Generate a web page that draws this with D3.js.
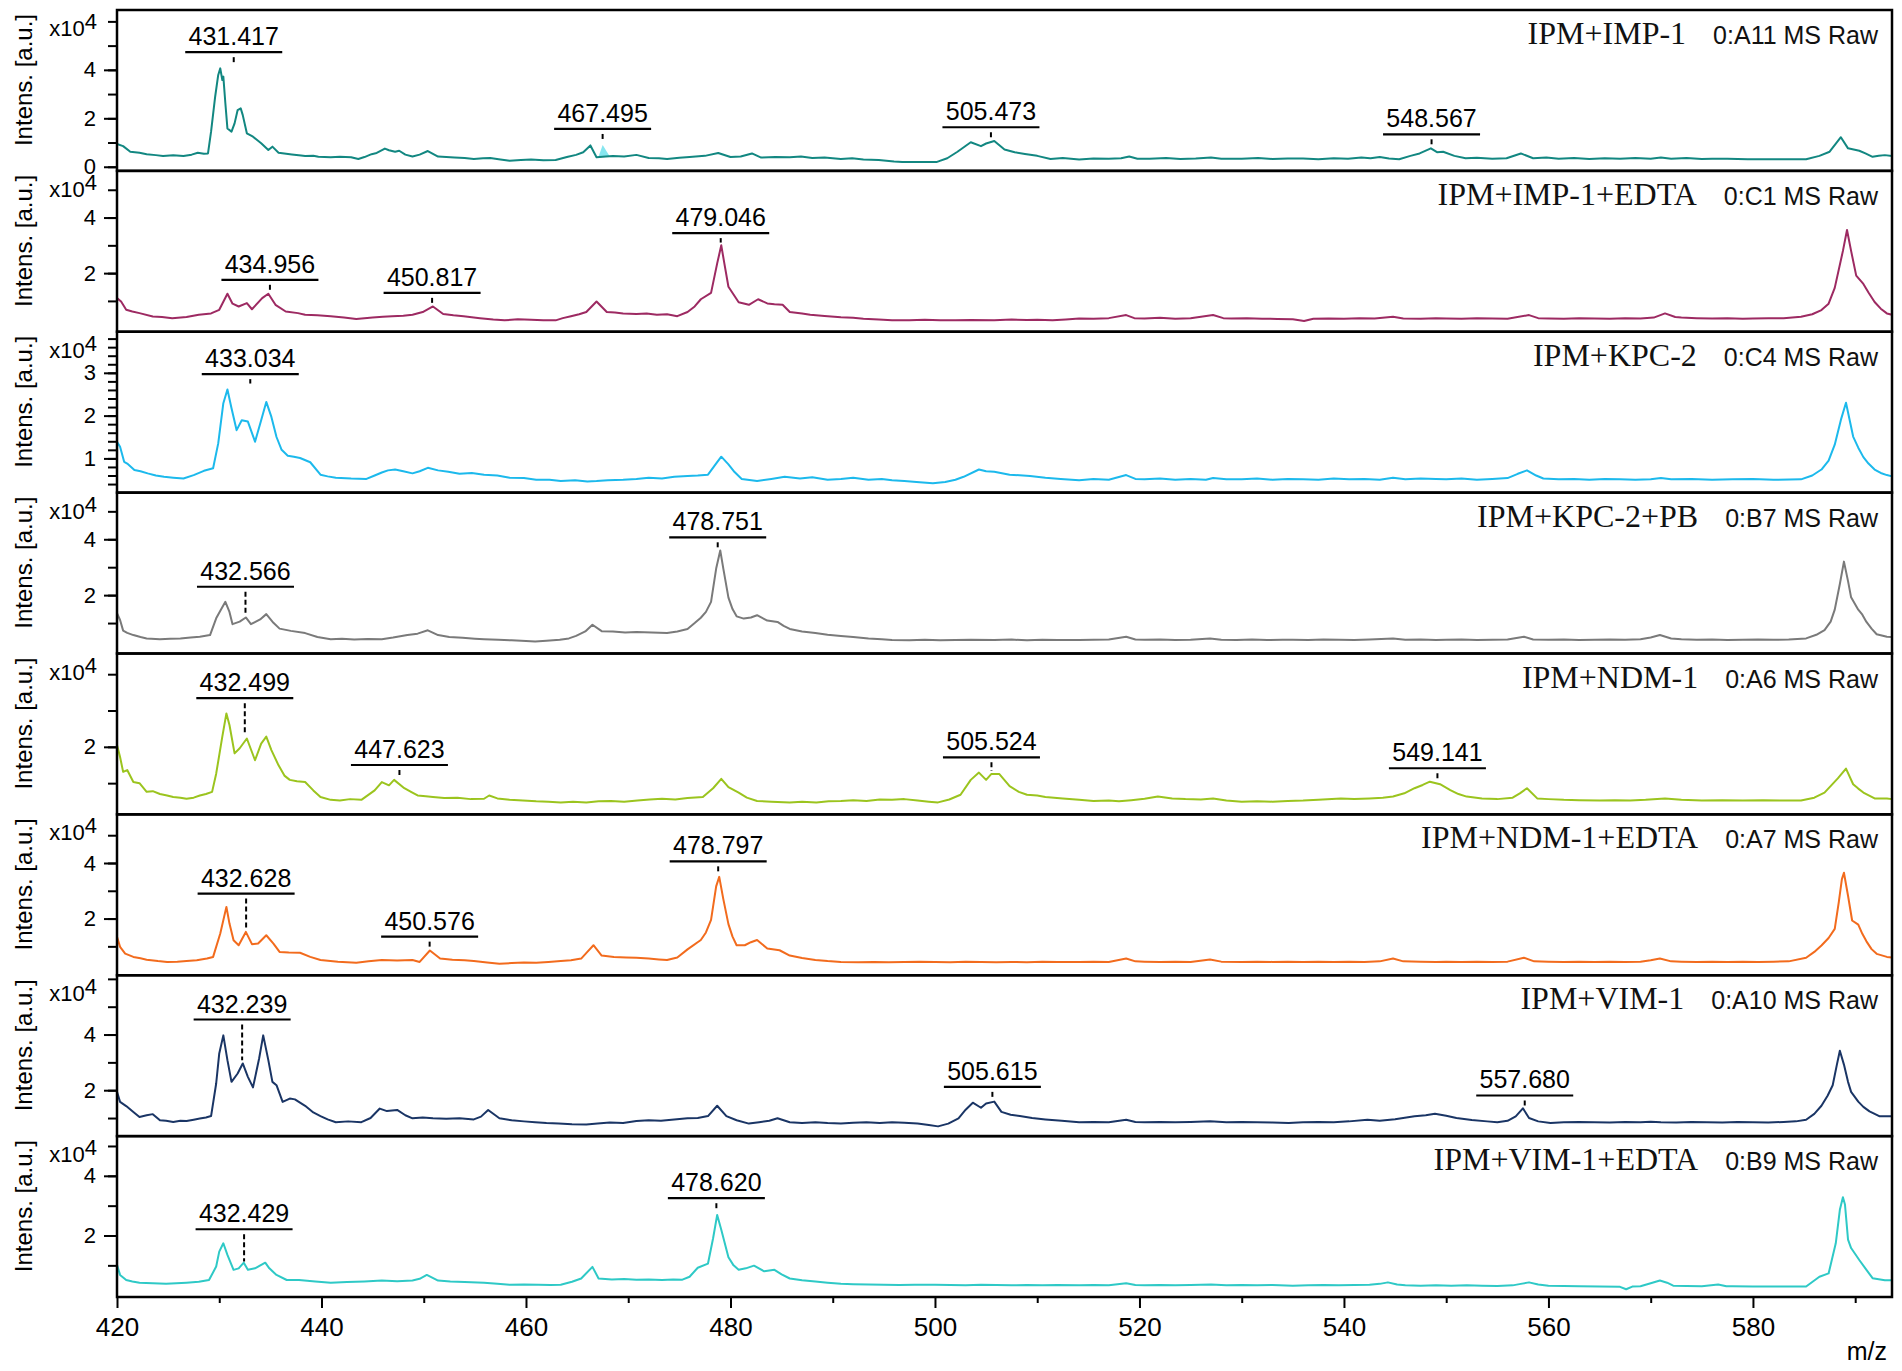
<!DOCTYPE html>
<html>
<head>
<meta charset="utf-8">
<script src="https://cdn.jsdelivr.net/npm/d3@7"></script>
<style>
  body { margin: 0; background: #fff; }
</style>
</head>
<body>
<svg id="chart" width="1902" height="1371"></svg>
<script>
// sample names, spot ids and trace colours, one per panel (top to bottom)
const titles = ['IPM+IMP-1', 'IPM+IMP-1+EDTA', 'IPM+KPC-2', 'IPM+KPC-2+PB',
  'IPM+NDM-1', 'IPM+NDM-1+EDTA', 'IPM+VIM-1', 'IPM+VIM-1+EDTA'];
const spots = ['0:A11 MS Raw', '0:C1 MS Raw', '0:C4 MS Raw', '0:B7 MS Raw',
  '0:A6 MS Raw', '0:A7 MS Raw', '0:A10 MS Raw', '0:B9 MS Raw'];
const colors = ['#128781', '#9d2a62', '#1cb9ec', '#7a7a7a', '#9bc41e', '#f26b1d', '#1a3565', '#2ec9c6'];

// intensity ranges (x10^4) and ticks of each panel
const yDomains = [[-0.17, 6.47], [-0.11, 5.68], [0.2, 3.96], [-0.09, 5.67],
  [0.14, 4.57], [-0.04, 5.75], [0.35, 6.13], [-0.06, 5.33]];
const yTicks = [
  [0, 1, 2, 3, 4, 5, 6],
  [1, 2, 3, 4, 5],
  [0.4, 0.6, 0.8, 1, 1.2, 1.4, 1.6, 1.8, 2, 2.2, 2.4, 2.6, 2.8, 3, 3.2, 3.4, 3.6, 3.8],
  [1, 2, 3, 4, 5],
  [1, 2, 3, 4],
  [1, 2, 3, 4, 5],
  [1, 2, 3, 4, 5, 6],
  [1, 2, 3, 4, 5]
];
const yLabelTicks = [[0, 2, 4], [2, 4], [1, 2, 3], [2, 4], [2], [2, 4], [2, 4], [2, 4]];

const mzDomain = [420, 593.6];
const xMajor = [420, 440, 460, 480, 500, 520, 540, 560, 580];
const xMinor = [430, 450, 470, 490, 510, 530, 550, 570, 590];

// spectra: [m/z, intensity x10^4]
const specIMP1 = [[420.0,0.94],[420.6,0.85],[421.3,0.62],[422.2,0.58],[422.9,0.52],[423.8,0.48],[424.5,0.44],[425.5,0.47],[426.5,0.44],[427.3,0.5],[427.9,0.58],[428.5,0.54],[428.9,0.55],[429.2,1.45],[429.6,2.89],[429.9,3.79],[430.1,4.06],[430.3,3.58],[430.4,3.72],[430.6,2.61],[430.8,1.58],[431.2,1.45],[431.5,1.79],[431.8,2.34],[432.1,2.41],[432.3,2.13],[432.7,1.38],[433.3,1.24],[434.1,0.97],[434.8,0.69],[435.2,0.83],[435.8,0.58],[437.1,0.51],[438.0,0.46],[438.4,0.44],[439.2,0.45],[439.7,0.41],[440.9,0.39],[441.8,0.41],[442.9,0.39],[443.6,0.32],[444.2,0.4],[444.9,0.52],[445.4,0.57],[446.2,0.75],[446.6,0.68],[447.2,0.62],[447.6,0.66],[448.2,0.5],[448.9,0.42],[449.6,0.5],[450.4,0.65],[451.4,0.42],[452.2,0.4],[453.0,0.38],[454.0,0.36],[454.9,0.32],[455.8,0.35],[456.5,0.36],[457.5,0.3],[458.4,0.25],[459.5,0.28],[460.5,0.3],[461.7,0.27],[462.9,0.28],[464.0,0.4],[464.9,0.49],[465.6,0.6],[466.3,0.88],[466.9,0.39],[467.8,0.42],[468.5,0.44],[469.6,0.42],[470.8,0.49],[472.0,0.36],[473.0,0.35],[473.8,0.32],[475.0,0.37],[476.0,0.4],[477.5,0.45],[478.8,0.57],[480.0,0.4],[481.0,0.42],[482.1,0.55],[483.0,0.38],[484.4,0.4],[485.8,0.39],[486.9,0.42],[488.0,0.36],[489.2,0.38],[490.8,0.32],[491.9,0.35],[493.0,0.3],[494.5,0.28],[496.0,0.22],[496.8,0.2],[498.5,0.2],[500.2,0.2],[501.2,0.35],[502.2,0.62],[503.5,1.01],[504.5,0.85],[505.0,0.96],[505.8,1.06],[506.8,0.71],[507.8,0.6],[508.8,0.53],[510.0,0.45],[511.3,0.32],[512.5,0.36],[514.1,0.3],[515.5,0.34],[517.0,0.33],[518.2,0.35],[519.0,0.42],[519.8,0.33],[521.0,0.33],[522.6,0.36],[524.0,0.32],[525.5,0.34],[527.0,0.38],[528.0,0.33],[530.0,0.33],[531.6,0.36],[533.0,0.32],[534.5,0.34],[536.0,0.34],[537.5,0.31],[539.0,0.35],[540.4,0.33],[541.7,0.38],[542.6,0.35],[543.5,0.4],[544.4,0.34],[545.4,0.31],[546.5,0.45],[547.4,0.55],[548.5,0.76],[549.1,0.6],[549.7,0.62],[550.8,0.45],[551.9,0.35],[553.0,0.37],[554.5,0.33],[555.9,0.35],[557.3,0.55],[558.5,0.35],[559.8,0.38],[561.0,0.33],[562.5,0.36],[564.0,0.32],[565.5,0.35],[567.0,0.33],[568.5,0.36],[570.0,0.33],[571.0,0.38],[572.0,0.33],[573.5,0.36],[575.0,0.32],[576.0,0.33],[577.5,0.33],[579.5,0.31],[581.5,0.31],[583.5,0.31],[585.2,0.31],[586.5,0.45],[587.5,0.62],[588.6,1.22],[589.3,0.76],[590.4,0.66],[591.0,0.55],[591.7,0.41],[592.3,0.45],[592.9,0.48],[593.6,0.44]];
const specIMP1EDTA = [[420.0,1.1],[420.4,0.98],[420.9,0.68],[421.5,0.62],[422.2,0.56],[423.5,0.44],[424.4,0.42],[425.4,0.38],[426.8,0.42],[428.0,0.5],[429.2,0.55],[430.0,0.68],[430.8,1.26],[431.3,0.9],[431.9,0.8],[432.7,0.92],[433.2,0.7],[434.2,1.1],[434.8,1.26],[435.5,0.86],[436.5,0.62],[437.7,0.56],[438.4,0.5],[439.6,0.48],[440.9,0.45],[442.2,0.4],[443.4,0.35],[444.2,0.38],[445.0,0.4],[446.0,0.43],[446.9,0.45],[448.0,0.47],[448.9,0.5],[449.9,0.6],[450.9,0.8],[451.9,0.53],[452.9,0.48],[453.9,0.45],[455.5,0.38],[456.8,0.33],[457.9,0.3],[459.2,0.34],[460.5,0.32],[461.7,0.3],[462.9,0.3],[463.6,0.38],[464.4,0.45],[465.2,0.52],[465.9,0.6],[466.9,0.98],[467.9,0.6],[468.7,0.58],[469.5,0.55],[470.8,0.53],[471.8,0.55],[472.8,0.5],[473.8,0.52],[474.8,0.45],[475.8,0.6],[476.5,0.8],[477.1,1.06],[478.1,1.29],[478.7,2.35],[479.1,3.0],[479.4,2.35],[479.8,1.51],[480.8,0.95],[481.8,0.86],[482.7,1.06],[483.6,0.91],[484.3,0.88],[485.1,0.86],[485.8,0.6],[487.0,0.55],[487.8,0.5],[489.2,0.46],[490.8,0.41],[492.0,0.39],[493.0,0.36],[494.5,0.33],[495.8,0.3],[497.5,0.3],[499.0,0.32],[500.5,0.3],[502.0,0.3],[503.5,0.31],[505.8,0.3],[507.5,0.33],[509.0,0.31],[510.0,0.32],[511.5,0.3],[512.8,0.33],[514.1,0.37],[515.5,0.36],[517.0,0.38],[518.7,0.49],[519.5,0.38],[520.5,0.37],[522.0,0.39],[523.5,0.36],[525.0,0.38],[527.2,0.49],[528.2,0.38],[529.0,0.37],[530.5,0.38],[532.0,0.36],[533.5,0.35],[535.0,0.34],[536.1,0.28],[537.0,0.36],[538.5,0.37],[540.0,0.36],[541.5,0.38],[543.0,0.37],[544.8,0.43],[545.8,0.37],[547.5,0.36],[549.0,0.38],[550.0,0.37],[551.5,0.36],[553.0,0.38],[554.5,0.37],[556.0,0.36],[558.1,0.49],[559.0,0.38],[560.0,0.37],[561.5,0.36],[563.0,0.38],[564.5,0.37],[566.0,0.36],[567.5,0.38],[569.0,0.37],[570.3,0.4],[571.4,0.55],[572.4,0.42],[573.0,0.4],[574.5,0.38],[576.0,0.37],[577.5,0.38],[579.0,0.36],[580.0,0.37],[581.5,0.38],[583.0,0.38],[584.7,0.43],[585.8,0.52],[586.7,0.67],[587.4,0.9],[588.0,1.47],[588.8,2.8],[589.2,3.55],[589.6,2.8],[590.1,1.91],[590.8,1.61],[591.3,1.3],[591.9,0.96],[592.5,0.72],[593.1,0.55],[593.6,0.5]];
const specKPC2 = [[420.0,1.39],[420.3,1.27],[420.7,0.92],[421.0,0.88],[421.7,0.73],[422.3,0.7],[423.0,0.65],[423.8,0.6],[424.6,0.57],[425.5,0.55],[426.5,0.53],[427.5,0.61],[428.5,0.71],[429.4,0.77],[429.9,1.35],[430.4,2.29],[430.8,2.61],[431.2,2.17],[431.7,1.66],[432.2,1.89],[432.8,1.86],[433.5,1.39],[434.1,1.89],[434.6,2.32],[435.1,1.97],[435.6,1.5],[436.1,1.2],[436.7,1.06],[437.3,1.04],[437.9,1.01],[438.9,0.91],[439.9,0.62],[440.6,0.58],[441.4,0.55],[442.9,0.53],[444.4,0.52],[445.2,0.6],[445.9,0.67],[446.5,0.72],[447.2,0.74],[448.0,0.7],[448.9,0.65],[449.6,0.7],[450.4,0.78],[451.4,0.72],[452.4,0.69],[453.5,0.64],[454.7,0.66],[455.9,0.62],[457.2,0.6],[458.4,0.55],[459.8,0.54],[461.0,0.5],[462.3,0.5],[463.4,0.47],[464.8,0.49],[466.0,0.46],[466.9,0.47],[468.0,0.49],[469.5,0.5],[470.8,0.52],[472.0,0.55],[473.3,0.53],[474.5,0.57],[475.8,0.59],[476.8,0.6],[477.8,0.62],[478.5,0.85],[479.1,1.04],[479.8,0.86],[480.4,0.68],[481.1,0.52],[482.6,0.47],[484.0,0.52],[485.3,0.57],[486.8,0.53],[488.0,0.56],[489.5,0.5],[490.8,0.52],[492.0,0.55],[493.5,0.5],[494.8,0.52],[495.8,0.49],[497.0,0.47],[498.5,0.44],[499.8,0.42],[501.0,0.45],[502.0,0.5],[502.8,0.57],[504.3,0.74],[505.0,0.7],[505.8,0.69],[507.3,0.62],[509.3,0.59],[510.8,0.55],[512.3,0.52],[514.1,0.49],[515.5,0.52],[517.0,0.5],[518.7,0.61],[519.6,0.52],[520.5,0.51],[522.0,0.53],[523.5,0.5],[525.0,0.52],[526.5,0.5],[527.2,0.54],[528.5,0.51],[530.0,0.51],[531.5,0.53],[533.0,0.5],[534.5,0.52],[536.0,0.51],[537.5,0.5],[539.0,0.53],[540.5,0.51],[542.0,0.52],[543.5,0.5],[544.8,0.55],[546.0,0.51],[547.5,0.53],[549.0,0.52],[550.0,0.51],[551.5,0.53],[553.0,0.5],[554.5,0.52],[556.0,0.54],[557.0,0.64],[557.9,0.72],[558.8,0.6],[559.5,0.53],[561.0,0.51],[562.5,0.52],[564.0,0.5],[565.5,0.52],[567.0,0.51],[568.5,0.5],[570.0,0.51],[571.0,0.54],[572.0,0.51],[574.0,0.52],[576.0,0.5],[578.0,0.51],[580.0,0.52],[582.0,0.5],[584.7,0.51],[585.8,0.6],[586.7,0.74],[587.4,0.95],[588.0,1.32],[588.6,1.9],[589.1,2.3],[589.5,1.85],[589.8,1.51],[590.3,1.25],[590.8,1.03],[591.3,0.88],[591.9,0.74],[592.5,0.66],[593.1,0.61],[593.6,0.58]];
const specKPC2PB = [[420.0,1.35],[420.3,1.11],[420.6,0.73],[421.0,0.65],[421.6,0.57],[422.3,0.5],[422.9,0.45],[424.2,0.42],[425.2,0.44],[426.2,0.45],[427.2,0.48],[428.1,0.51],[429.1,0.57],[429.7,1.17],[430.2,1.5],[430.6,1.76],[431.0,1.4],[431.3,0.96],[432.0,1.05],[432.6,1.2],[433.1,0.96],[434.0,1.13],[434.6,1.32],[435.3,1.01],[435.9,0.8],[437.0,0.72],[438.4,0.64],[439.6,0.5],[440.9,0.42],[442.0,0.44],[443.2,0.41],[444.5,0.43],[445.9,0.42],[447.0,0.48],[448.4,0.57],[449.4,0.62],[450.4,0.74],[451.4,0.57],[452.5,0.5],[453.8,0.47],[455.0,0.44],[455.9,0.42],[457.3,0.4],[458.6,0.38],[460.0,0.36],[460.9,0.34],[462.0,0.37],[463.3,0.4],[464.2,0.45],[464.9,0.54],[465.8,0.7],[466.5,0.94],[467.4,0.71],[468.5,0.7],[469.7,0.66],[470.8,0.68],[472.3,0.66],[473.8,0.64],[474.8,0.7],[475.8,0.79],[476.5,1.0],[477.1,1.19],[477.6,1.4],[478.1,1.76],[478.6,2.95],[479.0,3.6],[479.3,2.95],[479.8,1.91],[480.2,1.5],[480.6,1.24],[481.3,1.16],[482.0,1.2],[482.6,1.28],[483.6,1.09],[484.6,1.04],[485.2,0.9],[485.8,0.79],[487.0,0.7],[488.3,0.64],[489.5,0.58],[490.8,0.54],[492.0,0.5],[493.5,0.45],[494.8,0.42],[495.8,0.39],[497.5,0.38],[499.0,0.4],[500.5,0.38],[502.0,0.39],[503.5,0.4],[505.8,0.39],[507.5,0.41],[509.0,0.38],[510.5,0.4],[512.0,0.39],[514.1,0.39],[515.5,0.4],[517.0,0.41],[518.7,0.51],[519.6,0.41],[520.5,0.4],[522.0,0.41],[523.5,0.39],[525.0,0.4],[526.9,0.45],[528.0,0.4],[529.5,0.39],[531.0,0.41],[532.5,0.39],[534.0,0.4],[535.0,0.4],[536.5,0.39],[538.0,0.41],[539.5,0.4],[541.0,0.39],[542.5,0.41],[544.8,0.45],[546.0,0.4],[547.5,0.41],[549.0,0.39],[550.0,0.4],[551.5,0.41],[553.0,0.39],[554.5,0.4],[556.0,0.41],[557.6,0.51],[558.5,0.41],[560.0,0.4],[561.5,0.41],[563.0,0.39],[564.5,0.4],[566.0,0.41],[567.5,0.4],[569.0,0.42],[570.0,0.48],[570.9,0.57],[572.0,0.45],[573.0,0.42],[574.5,0.4],[576.0,0.41],[577.5,0.39],[579.0,0.4],[580.5,0.41],[582.0,0.4],[583.5,0.41],[585.2,0.45],[586.2,0.58],[587.0,0.75],[587.6,1.05],[588.0,1.48],[588.5,2.4],[588.9,3.2],[589.3,2.5],[589.6,1.92],[590.3,1.48],[590.7,1.3],[591.1,1.04],[591.6,0.8],[592.1,0.6],[593.1,0.51],[593.6,0.5]];
const specNDM1 = [[420.0,2.05],[420.3,1.72],[420.6,1.31],[421.0,1.36],[421.6,1.03],[422.2,1.0],[422.9,0.76],[423.5,0.78],[424.2,0.7],[424.9,0.66],[425.5,0.62],[426.2,0.6],[426.8,0.57],[427.5,0.6],[428.1,0.66],[428.7,0.7],[429.3,0.76],[429.7,1.26],[430.3,2.28],[430.7,2.92],[431.0,2.6],[431.5,1.82],[432.0,1.96],[432.7,2.23],[433.5,1.63],[434.1,2.09],[434.6,2.28],[435.1,1.91],[435.8,1.49],[436.4,1.2],[436.9,1.09],[437.6,1.05],[438.4,1.03],[439.2,0.8],[439.9,0.62],[440.9,0.54],[441.8,0.52],[442.8,0.56],[443.9,0.54],[445.2,0.8],[445.9,1.03],[446.6,0.94],[447.1,1.09],[448.1,0.86],[448.8,0.75],[449.4,0.66],[450.2,0.64],[450.9,0.62],[452.0,0.59],[453.3,0.6],[454.6,0.56],[455.9,0.57],[456.4,0.66],[457.2,0.58],[458.4,0.54],[459.7,0.52],[461.0,0.5],[462.2,0.49],[463.4,0.47],[464.6,0.49],[465.9,0.47],[467.1,0.5],[468.3,0.51],[469.6,0.49],[470.9,0.52],[472.1,0.55],[473.3,0.57],[474.6,0.55],[475.8,0.59],[477.3,0.62],[478.3,0.86],[479.1,1.12],[479.8,0.89],[480.8,0.74],[481.6,0.6],[482.6,0.51],[484.0,0.49],[485.8,0.47],[487.0,0.49],[488.4,0.47],[489.6,0.5],[490.8,0.51],[492.0,0.53],[493.3,0.51],[494.6,0.55],[495.8,0.54],[497.0,0.56],[498.3,0.52],[499.4,0.49],[500.3,0.47],[501.4,0.55],[502.5,0.68],[503.5,1.09],[504.3,1.29],[505.0,1.09],[505.5,1.25],[506.3,1.25],[507.3,0.92],[508.2,0.76],[509.0,0.68],[510.0,0.66],[510.8,0.62],[512.5,0.58],[514.1,0.54],[515.5,0.51],[517.0,0.52],[518.0,0.5],[519.2,0.53],[520.5,0.57],[521.8,0.63],[523.2,0.58],[524.5,0.56],[526.0,0.55],[527.2,0.58],[528.5,0.52],[530.0,0.49],[531.5,0.5],[533.0,0.49],[534.5,0.51],[536.0,0.52],[537.5,0.54],[539.7,0.58],[541.0,0.56],[542.5,0.58],[543.8,0.6],[544.8,0.63],[545.9,0.72],[546.9,0.86],[547.7,0.95],[548.4,1.04],[549.4,0.97],[550.4,0.81],[551.2,0.7],[552.0,0.63],[553.5,0.58],[555.0,0.56],[556.5,0.6],[557.2,0.72],[557.9,0.86],[558.9,0.58],[560.0,0.56],[561.5,0.54],[563.0,0.53],[565.0,0.52],[566.5,0.53],[568.0,0.52],[569.5,0.54],[571.4,0.58],[573.0,0.54],[575.0,0.52],[577.0,0.53],[579.0,0.52],[581.0,0.53],[583.0,0.52],[584.7,0.52],[586.0,0.6],[587.0,0.74],[588.3,1.13],[589.1,1.4],[589.8,0.97],[590.3,0.85],[590.8,0.74],[591.9,0.58],[593.1,0.58],[593.6,0.56]];
const specNDM1EDTA = [[420.0,1.34],[420.3,0.98],[420.8,0.74],[421.6,0.62],[422.3,0.57],[422.9,0.52],[424.0,0.47],[424.9,0.44],[425.9,0.45],[426.8,0.47],[427.8,0.5],[428.8,0.56],[429.4,0.62],[430.1,1.46],[430.7,2.42],[431.0,1.82],[431.4,1.22],[431.9,1.04],[432.6,1.52],[433.2,1.08],[433.8,1.1],[434.6,1.4],[435.3,1.1],[435.9,0.8],[436.8,0.78],[437.9,0.77],[438.9,0.62],[439.9,0.51],[441.6,0.45],[443.4,0.41],[444.6,0.46],[445.9,0.51],[447.4,0.49],[448.9,0.51],[449.6,0.44],[450.6,0.85],[451.6,0.56],[452.8,0.52],[454.0,0.5],[454.9,0.47],[456.2,0.42],[457.4,0.37],[458.6,0.4],[459.8,0.42],[461.0,0.41],[462.2,0.44],[463.4,0.47],[464.4,0.5],[465.4,0.56],[466.0,0.8],[466.6,1.04],[467.4,0.67],[468.6,0.62],[469.8,0.6],[470.8,0.59],[472.0,0.56],[473.0,0.53],[473.8,0.51],[474.8,0.6],[475.8,0.89],[477.1,1.23],[477.6,1.5],[478.1,1.95],[478.6,3.16],[478.9,3.5],[479.3,2.7],[479.8,1.8],[480.2,1.35],[480.6,1.04],[481.4,1.04],[482.0,1.15],[482.6,1.23],[483.6,0.92],[484.8,0.86],[485.8,0.67],[487.0,0.58],[488.3,0.51],[489.5,0.47],[490.8,0.44],[492.5,0.43],[494.0,0.44],[495.5,0.43],[497.0,0.44],[498.5,0.45],[500.0,0.44],[501.5,0.43],[503.0,0.45],[504.5,0.44],[506.0,0.43],[507.5,0.44],[509.0,0.43],[510.5,0.45],[512.0,0.44],[514.1,0.44],[515.5,0.45],[517.0,0.44],[518.7,0.56],[519.6,0.46],[520.5,0.45],[522.0,0.44],[523.5,0.45],[525.0,0.44],[526.9,0.53],[528.0,0.45],[530.0,0.44],[531.5,0.45],[533.0,0.44],[534.5,0.45],[536.0,0.44],[537.5,0.45],[539.0,0.44],[540.5,0.45],[542.0,0.44],[543.5,0.46],[544.8,0.56],[545.8,0.46],[547.5,0.45],[549.0,0.44],[550.0,0.45],[551.5,0.44],[553.0,0.45],[554.5,0.44],[556.0,0.45],[557.6,0.59],[558.6,0.46],[560.0,0.45],[561.5,0.44],[563.0,0.45],[564.5,0.44],[566.0,0.45],[567.5,0.44],[569.0,0.45],[570.0,0.5],[570.9,0.56],[572.0,0.46],[573.0,0.45],[574.5,0.44],[576.0,0.45],[577.5,0.44],[579.0,0.45],[580.5,0.44],[582.0,0.45],[583.5,0.46],[585.2,0.59],[586.0,0.8],[586.7,1.03],[587.4,1.3],[588.0,1.63],[588.4,2.6],[588.7,3.42],[588.9,3.65],[589.3,2.82],[589.7,1.93],[590.3,1.78],[590.7,1.45],[591.1,1.18],[591.6,0.9],[592.1,0.73],[593.1,0.62],[593.6,0.6]];
const specVIM1 = [[420.0,1.94],[420.3,1.58],[420.9,1.43],[421.6,1.22],[422.2,1.04],[422.9,1.1],[423.5,1.14],[424.2,0.92],[424.8,0.9],[425.5,0.86],[426.2,0.9],[426.8,0.89],[427.5,0.94],[428.1,0.98],[428.7,1.02],[429.2,1.07],[429.7,2.24],[430.0,3.32],[430.4,3.97],[430.8,3.08],[431.2,2.3],[431.8,2.6],[432.3,2.96],[432.8,2.48],[433.3,2.1],[433.9,3.14],[434.3,3.97],[434.8,3.08],[435.2,2.3],[435.6,2.18],[436.2,1.58],[436.9,1.7],[437.4,1.67],[438.4,1.44],[439.2,1.2],[439.9,1.07],[440.6,0.95],[441.4,0.85],[442.6,0.88],[443.9,0.85],[444.8,1.0],[445.7,1.34],[446.4,1.25],[447.4,1.29],[448.2,1.1],[448.9,0.99],[449.9,1.02],[450.9,0.99],[452.2,0.97],[453.5,0.99],[454.9,0.95],[455.6,1.05],[456.3,1.29],[457.4,0.99],[458.6,0.92],[459.8,0.88],[460.9,0.85],[462.0,0.82],[463.2,0.8],[464.5,0.78],[465.9,0.77],[467.0,0.8],[468.2,0.84],[469.5,0.82],[470.8,0.89],[472.0,0.92],[473.2,0.9],[474.5,0.95],[475.8,0.99],[476.8,1.0],[477.8,1.07],[478.7,1.44],[479.6,1.07],[480.6,0.92],[481.8,0.8],[482.8,0.85],[483.8,0.9],[484.6,0.99],[485.8,0.85],[487.0,0.82],[488.3,0.85],[489.5,0.82],[490.8,0.8],[492.0,0.83],[493.3,0.85],[494.6,0.82],[495.8,0.85],[497.0,0.83],[498.3,0.8],[499.4,0.75],[500.3,0.7],[501.3,0.8],[502.3,0.99],[503.0,1.3],[503.7,1.55],[504.5,1.37],[505.0,1.52],[505.8,1.59],[506.5,1.22],[507.4,1.12],[508.3,1.07],[509.5,1.0],[510.8,0.95],[512.4,0.9],[514.1,0.85],[515.5,0.86],[517.0,0.85],[518.7,0.94],[519.6,0.86],[520.5,0.85],[522.0,0.86],[523.5,0.85],[525.0,0.86],[526.9,0.88],[528.5,0.85],[530.0,0.86],[531.5,0.85],[533.0,0.84],[534.6,0.82],[536.0,0.85],[537.5,0.86],[539.0,0.85],[540.5,0.88],[542.3,0.94],[543.5,0.9],[545.0,0.96],[546.9,1.06],[548.0,1.1],[548.9,1.15],[550.0,1.08],[551.0,1.0],[552.5,0.93],[554.0,0.88],[555.0,0.85],[556.0,0.9],[556.8,1.06],[557.5,1.35],[558.1,1.0],[559.0,0.88],[560.2,0.82],[561.5,0.85],[563.0,0.86],[564.5,0.85],[566.0,0.84],[567.5,0.86],[569.0,0.85],[570.0,0.87],[571.0,0.85],[572.5,0.84],[574.0,0.86],[575.5,0.85],[577.0,0.84],[578.5,0.86],[580.0,0.85],[581.5,0.84],[583.0,0.86],[584.2,0.88],[585.2,0.94],[586.0,1.15],[586.7,1.44],[587.3,1.8],[587.8,2.18],[588.2,2.9],[588.5,3.42],[588.9,2.92],[589.3,2.3],[589.6,1.94],[590.3,1.59],[590.8,1.4],[591.4,1.24],[592.4,1.06],[593.6,1.06]];
const specVIM1EDTA = [[420.0,1.02],[420.3,0.68],[420.9,0.51],[421.5,0.46],[422.2,0.42],[423.5,0.4],[424.8,0.38],[425.8,0.4],[426.8,0.42],[428.0,0.45],[429.0,0.51],[429.7,0.96],[430.0,1.46],[430.4,1.74],[430.8,1.35],[431.4,0.85],[431.9,0.9],[432.4,1.09],[432.8,0.85],[433.5,0.9],[434.5,1.09],[434.9,0.9],[435.6,0.68],[436.6,0.51],[437.8,0.51],[439.4,0.46],[440.9,0.42],[442.5,0.44],[444.2,0.46],[445.9,0.49],[447.4,0.47],[448.9,0.49],[449.6,0.55],[450.3,0.68],[451.4,0.49],[452.6,0.46],[454.0,0.44],[455.9,0.42],[457.2,0.38],[458.4,0.35],[459.8,0.36],[461.2,0.35],[462.4,0.34],[463.4,0.35],[464.5,0.45],[465.4,0.56],[466.5,0.95],[467.1,0.56],[468.4,0.53],[469.6,0.54],[470.8,0.52],[472.0,0.53],[473.3,0.51],[474.4,0.53],[475.3,0.52],[476.0,0.62],[476.8,0.92],[477.8,1.06],[478.3,1.91],[478.7,2.69],[479.1,2.19],[479.8,1.27],[480.3,1.0],[480.8,0.85],[481.5,0.9],[482.3,0.99],[483.3,0.8],[484.3,0.85],[485.0,0.7],[485.8,0.56],[487.0,0.5],[488.3,0.46],[489.5,0.42],[490.8,0.38],[492.0,0.37],[493.5,0.36],[495.0,0.35],[496.5,0.34],[498.0,0.35],[500.0,0.35],[501.5,0.34],[503.0,0.33],[504.5,0.35],[506.0,0.34],[507.5,0.33],[509.0,0.34],[510.5,0.33],[512.0,0.34],[514.1,0.33],[515.5,0.34],[517.0,0.33],[518.7,0.4],[519.6,0.34],[520.5,0.33],[522.0,0.34],[523.5,0.33],[525.0,0.34],[527.0,0.36],[528.5,0.33],[530.0,0.34],[531.5,0.33],[533.0,0.34],[535.0,0.32],[536.5,0.33],[538.0,0.34],[539.5,0.33],[541.0,0.34],[542.5,0.35],[543.5,0.38],[544.3,0.43],[545.2,0.36],[546.0,0.33],[547.5,0.32],[549.0,0.33],[550.5,0.32],[552.0,0.33],[553.5,0.32],[555.0,0.31],[556.5,0.33],[557.3,0.38],[558.1,0.43],[559.0,0.36],[560.0,0.32],[561.5,0.31],[563.0,0.3],[565.0,0.29],[567.0,0.28],[567.6,0.2],[568.2,0.29],[569.0,0.3],[570.0,0.4],[570.9,0.49],[571.6,0.42],[572.2,0.32],[573.5,0.31],[575.0,0.3],[576.6,0.36],[577.4,0.3],[578.0,0.3],[580.0,0.29],[582.0,0.29],[584.0,0.29],[585.2,0.29],[586.5,0.62],[587.4,0.73],[588.1,1.74],[588.5,2.86],[588.8,3.28],[589.0,3.04],[589.3,1.86],[589.6,1.58],[590.4,1.18],[591.1,0.85],[591.7,0.57],[592.9,0.5],[593.6,0.5]];
const spectra = [specIMP1, specIMP1EDTA, specKPC2, specKPC2PB, specNDM1, specNDM1EDTA, specVIM1, specVIM1EDTA];

// small integrated-area marker under 467.495 in the first panel
const areaMarkIMP1 = [[467.1, 0.42], [467.5, 0.9], [468.2, 0.42]];

// peak annotations: [panel, m/z, label level, peak level]
const peakLabels = [
  [0, 431.417, 4.73, 4.2], [0, 467.495, 1.56, 1.03], [0, 505.473, 1.63, 1.10], [0, 548.567, 1.34, 0.9],
  [1, 434.956, 1.76, 1.34], [1, 450.817, 1.29, 0.86], [1, 479.046, 3.44, 3.1],
  [2, 433.034, 2.97, 2.75],
  [3, 432.566, 2.30, 1.29], [3, 478.751, 4.07, 3.63],
  [4, 432.499, 3.34, 2.32], [4, 447.623, 1.50, 1.17], [4, 505.524, 1.71, 1.34], [4, 549.141, 1.41, 1.08],
  [5, 432.628, 2.90, 1.58], [5, 450.576, 1.35, 0.97], [5, 478.797, 4.06, 3.61],
  [6, 432.239, 4.54, 3.08], [6, 505.615, 2.12, 1.67], [6, 557.680, 1.81, 1.35],
  [7, 432.429, 2.21, 1.13], [7, 478.620, 3.25, 2.87]
];

const SANS = '"Liberation Sans", Arial, Helvetica, sans-serif';
const SERIF = '"Liberation Serif", "Times New Roman", Times, serif';

const svg = d3.select('#chart');
const plot = { left: 117, right: 1892, top: 10, bottom: 1297 };
const panelH = (plot.bottom - plot.top) / spectra.length;

const x = d3.scaleLinear().domain(mzDomain).range([plot.left, plot.right]);

spectra.forEach((data, i) => {
  const top = plot.top + i * panelH;
  const bottom = top + panelH;
  const y = d3.scaleLinear().domain(yDomains[i]).range([bottom, top]);
  const g = svg.append('g').attr('class', 'panel');

  // minor then labelled ticks on the left axis
  const minor = g.append('g').attr('transform', `translate(${plot.left},0)`)
    .call(d3.axisLeft(y).tickValues(yTicks[i]).tickSize(9).tickFormat(''));
  minor.select('.domain').remove();
  const major = g.append('g').attr('transform', `translate(${plot.left},0)`)
    .call(d3.axisLeft(y).tickValues(yLabelTicks[i]).tickSize(13).tickPadding(8).tickFormat(d3.format('d')));
  major.select('.domain').remove();
  g.selectAll('.tick line').attr('stroke', '#000').attr('stroke-width', 2);
  major.selectAll('text').attr('font-size', 22).attr('font-family', SANS).attr('fill', '#000');

  const exp = g.append('text')
    .attr('x', 97).attr('y', top + 26)
    .attr('text-anchor', 'end')
    .attr('font-family', SANS).attr('font-size', 22).attr('fill', '#000');
  exp.append('tspan').text('x10');
  exp.append('tspan').attr('dy', -7).text('4');

  g.append('text')
    .attr('transform', `translate(32,${top + 70}) rotate(-90)`)
    .attr('text-anchor', 'middle')
    .attr('font-family', SANS).attr('font-size', 24).attr('fill', '#000')
    .text('Intens. [a.u.]');

  if (i === 0) {
    g.append('path')
      .datum(areaMarkIMP1)
      .attr('fill', '#86e6ef')
      .attr('d', d3.area().x(d => x(d[0])).y0(y(areaMarkIMP1[0][1])).y1(d => y(d[1])));
  }

  g.append('path')
    .datum(data)
    .attr('fill', 'none')
    .attr('stroke', colors[i])
    .attr('stroke-width', 2)
    .attr('stroke-linejoin', 'round')
    .attr('d', d3.line().x(d => x(d[0])).y(d => y(d[1])));

  const title = g.append('text')
    .attr('x', 1878).attr('y', top + 34)
    .attr('text-anchor', 'end').attr('fill', '#111');
  title.append('tspan').attr('font-family', SERIF).attr('font-size', 32).text(titles[i]);
  title.append('tspan').attr('dx', 27).attr('font-family', SANS).attr('font-size', 25).text(spots[i]);

  peakLabels.filter(p => p[0] === i).forEach(([, mz, level, peak]) => {
    const cx = x(mz);
    const ly = y(level);
    g.append('line')
      .attr('x1', cx - 48.5).attr('x2', cx + 48.5)
      .attr('y1', ly).attr('y2', ly)
      .attr('stroke', '#000').attr('stroke-width', 2.2);
    g.append('line')
      .attr('x1', cx).attr('x2', cx)
      .attr('y1', ly + 5).attr('y2', y(peak))
      .attr('stroke', '#000').attr('stroke-width', 2)
      .attr('stroke-dasharray', '5,3');
    g.append('text')
      .attr('x', cx).attr('y', ly - 7)
      .attr('text-anchor', 'middle')
      .attr('font-family', SANS).attr('font-size', 25).attr('fill', '#000')
      .text(mz.toFixed(3));
  });

  g.append('rect')
    .attr('x', plot.left).attr('y', top)
    .attr('width', plot.right - plot.left).attr('height', panelH)
    .attr('fill', 'none').attr('stroke', '#000').attr('stroke-width', 2.5);
});

// shared m/z axis
const xMinorAxis = svg.append('g').attr('transform', `translate(0,${plot.bottom})`)
  .call(d3.axisBottom(x).tickValues(xMinor).tickSize(6).tickFormat(''));
xMinorAxis.select('.domain').remove();
const xAxis = svg.append('g').attr('transform', `translate(0,${plot.bottom})`)
  .call(d3.axisBottom(x).tickValues(xMajor).tickSize(11).tickPadding(10).tickFormat(d3.format('d')));
xAxis.select('.domain').remove();
svg.selectAll('.tick line').attr('stroke', '#000').attr('stroke-width', 2);
xAxis.selectAll('text').attr('font-size', 26).attr('font-family', SANS).attr('fill', '#000');

svg.append('text')
  .attr('x', 1887).attr('y', 1360)
  .attr('text-anchor', 'end')
  .attr('font-family', SANS).attr('font-size', 25).attr('fill', '#000')
  .text('m/z');
</script>
</body>
</html>
